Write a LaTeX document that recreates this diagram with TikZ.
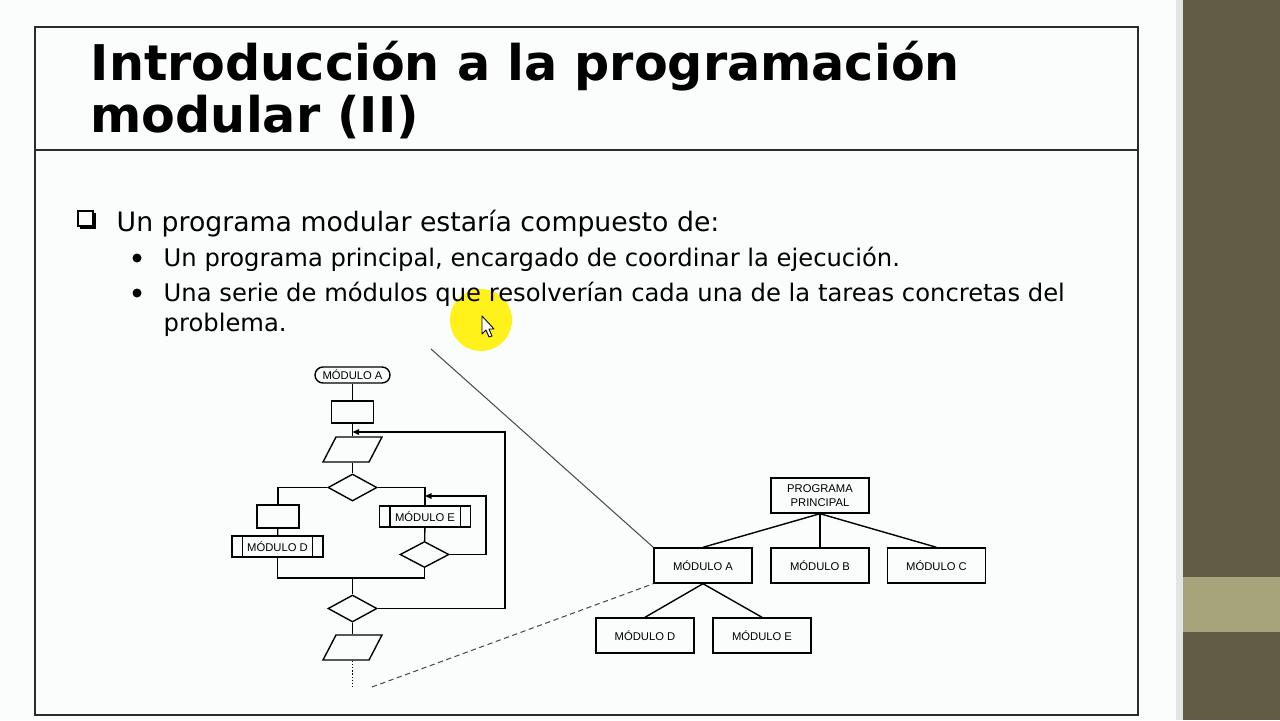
\documentclass[tikz,border=0pt]{standalone}
\usepackage{fontspec}
\setmainfont{DejaVu Sans}
\newfontfamily\diagfont{Liberation Sans}
\usetikzlibrary{shapes.geometric,arrows.meta}

\definecolor{slidebg}{HTML}{FBFDFC}
\definecolor{sidedark}{HTML}{625B46}
\definecolor{sideband}{HTML}{A7A37A}
\definecolor{sidegap}{HTML}{E3E5E5}
\definecolor{framegray}{HTML}{2B2B2B}
\definecolor{hilite}{HTML}{FFF21A}

\tikzset{
  fbox/.style={draw, rectangle, inner sep=0pt, minimum width=0.84cm, minimum height=0.44cm},
  term/.style={draw, rectangle, rounded corners=0.16cm, inner sep=0pt,
    minimum width=1.5cm, minimum height=0.32cm, font=\diagfont\fontsize{6.4}{7}\selectfont},
  io/.style={draw, rectangle, xslant=0.52, inner sep=0pt, minimum width=0.92cm, minimum height=0.5cm},
  cond/.style={draw, diamond, aspect=1.8, inner sep=0pt, minimum width=0.98cm, minimum height=0.54cm},
  subproc/.style={draw, rectangle, inner sep=0pt, minimum width=1.82cm, minimum height=0.42cm,
    font=\diagfont\fontsize{6.4}{7}\selectfont,
    append after command={
      ([xshift=0.22cm]\tikzlastnode.north west) edge ([xshift=0.22cm]\tikzlastnode.south west)
      ([xshift=-0.22cm]\tikzlastnode.north east) edge ([xshift=-0.22cm]\tikzlastnode.south east)}},
  tbox/.style={draw, rectangle, inner sep=0pt, minimum width=1.96cm, minimum height=0.7cm,
    align=center, font=\diagfont\fontsize{6.4}{7.6}\selectfont},
  loopin/.style={-{Triangle[length=0.13cm,width=0.11cm]}},
  txt/.style={anchor=base west, inner sep=0pt, text=black}
}

\begin{document}
\begin{tikzpicture}[x=0.02cm, y=-0.02cm, line width=0.8pt]
  \useasboundingbox (0,0) rectangle (1280,720);
  % Slide background and side bar
  \fill[slidebg] (0,0) rectangle (1176,720);
  \fill[sidegap] (1176,0) rectangle (1183,720);
  \fill[sidedark] (1183,0) rectangle (1280,720);
  \fill[sideband] (1183,577) rectangle (1280,632);
  % Frame
  \draw[framegray, line width=0.8pt] (35,27) rectangle (1138,715);
  \draw[framegray, line width=1.2pt] (35,150) -- (1138,150);

  % Title
  \node[txt, font=\bfseries\fontsize{28}{33}\selectfont] (title1) at (90,80) {Introducción a la programación};
  \node[txt, font=\bfseries\fontsize{28}{33}\selectfont] (title2) at (90,132) {modular (II)};

  % Pointer highlight
  \fill[hilite] (481,320) circle (31);

  % Bullets
  \draw[line width=0.9pt] (78,211) rectangle (93,226);
  \fill (93,213) rectangle (96,229);
  \fill (80,226) rectangle (96,229);
  \node[txt, font=\fontsize{15.2}{18}\selectfont] (item) at (116,231) {Un programa modular estaría compuesto de:};
  \foreach \y in {258,293}
    \fill (137,\y) circle (4.5);
  \node[txt, font=\fontsize{13.8}{16}\selectfont] (sub1) at (163,266) {Un programa principal, encargado de coordinar la ejecución.};
  \node[txt, font=\fontsize{13.8}{16}\selectfont] (sub2) at (163,301) {Una serie de módulos que resolverían cada una de la tareas concretas del};
  \node[txt, font=\fontsize{13.8}{16}\selectfont] (sub3) at (163,331) {problema.};

  % Mouse pointer
  \draw[fill=white, line width=0.5pt, line join=round]
    (482,316) -- (482,334) -- (486,330) -- (489,337) -- (492,336) -- (489,329) -- (494,329) -- cycle;

  % Flowchart of module A
  \node[term] (start) at (352.5,375) {MÓDULO A};
  \node[fbox] (act1) at (352.5,412) {};
  \node[io] (read1) at (352.5,449.5) {};
  \node[cond] (dec1) at (352.5,487.5) {};
  \node[fbox, minimum height=0.46cm] (act2) at (278,516.5) {};
  \node[subproc] (callD) at (277.5,546.5) {MÓDULO D};
  \node[subproc] (callE) at (425,516.5) {MÓDULO E};
  \node[cond, minimum height=0.52cm] (dec2) at (424.5,554.5) {};
  \node[cond] (dec3) at (352.5,608.5) {};
  \node[io] (read2) at (352.5,647.5) {};
  \coordinate (join) at (352.5,578);
  \coordinate (loopA) at (352.5,432);
  \coordinate (loopE) at (425,496);
  \coordinate (flowend) at (352.5,687);

  \draw (start) -- (act1);
  \draw (act1.south) -- (act1.south |- read1.north);
  \draw (act1.south |- read1.south) -- (dec1.north);
  \draw (dec1.west) -| (act2.north);
  \draw (act2) -- (callD);
  \draw (dec1.east) -| (callE.north);
  \draw (callE) -- (dec2);
  \draw (callD.south) |- (join) -| (dec2.south);
  \draw (join) -- (dec3);
  \draw (dec3.south) -- (dec3.south |- read2.north);
  \draw[densely dotted] (dec3.south |- read2.south) -- (flowend);
  % Loops
  \draw[loopin] (dec2.east) -| (486,496) -- (loopE);
  \draw[loopin] (dec3.east) -| (505,432) -- (loopA);

  % Module tree
  \node[tbox] (main) at (820,495.5) {PROGRAMA\\PRINCIPAL};
  \foreach \n/\x/\y/\t in {tA/703/565.5/A, tB/820/565.5/B, tC/936.5/565.5/C, tD/645/635.5/D, tE/762/635.5/E}
    \node[tbox] (\n) at (\x,\y) {MÓDULO \t};
  \foreach \c in {tA,tB,tC}
    \draw (main.south) -- (\c.north);
  \foreach \c in {tD,tE}
    \draw (tA.south) -- (\c.north);

  % Zoom lines
  \coordinate (zoomtop) at (431,349);
  \coordinate (zoombot) at (372,687);
  \draw[black!70, line width=0.6pt] (zoomtop) -- (tA.north west);
  \draw[black!70, line width=0.6pt, densely dashed] (zoombot) -- (tA.south west);
\end{tikzpicture}
\end{document}
